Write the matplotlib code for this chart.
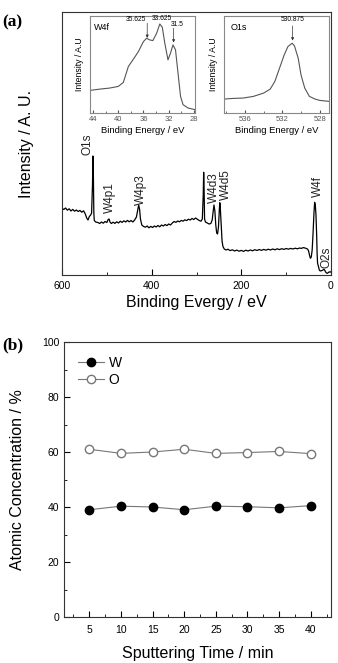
import numpy as np
import matplotlib
matplotlib.use("Agg")
import matplotlib.pyplot as plt
from matplotlib.ticker import MultipleLocator

plt.rcParams['font.family'] = ['Liberation Sans', 'DejaVu Sans']

# survey spectrum (binding energy, intensity in arbitrary units)
survey_be = [600, 596, 592, 588, 584, 580, 576, 572, 568, 564, 560, 556, 552, 548, 545, 542, 539, 536, 534,
             532, 531, 530, 529, 528, 525, 520, 516, 512, 508, 504, 500, 497, 495, 493, 490, 486, 482, 478,
             474, 470, 466, 462, 458, 454, 450, 446, 442, 438, 434, 431, 429, 427, 425, 422, 418, 414, 410,
             406, 402, 398, 394, 390, 386, 382, 378, 374, 370, 366, 362, 358, 354, 350, 346, 342, 338, 334,
             330, 326, 322, 318, 314, 310, 306, 302, 298, 294, 290, 287, 285, 284, 283, 282, 280, 276, 272,
             268, 265, 263, 261, 259, 257, 255, 253, 251, 249, 248, 247, 245, 243, 241, 238, 234, 230, 225,
             220, 215, 210, 205, 200, 195, 190, 185, 180, 175, 170, 165, 160, 155, 150, 145, 140, 135, 130,
             125, 120, 115, 110, 105, 100, 95, 90, 85, 80, 75, 70, 66, 62, 58, 55, 52, 50, 48, 46, 44, 42,
             40, 38, 36.5, 35, 33.5, 32, 31, 30, 28, 26, 24, 22, 20, 18, 16, 14, 12, 10, 8, 6, 4, 2, 0]
survey_int = [66.7, 65.5, 67.0, 64.8, 66.2, 64.0, 65.6, 63.8, 65.0, 63.5, 64.6, 62.8, 64.2, 61.0, 57.0, 55.0,
              58.5, 60.0, 62.0, 90.0, 119.0, 100.0, 62.0, 54.5, 53.0, 52.5, 51.5, 53.0, 51.8, 53.5, 52.5, 55.5,
              56.0, 53.0, 51.5, 52.8, 51.6, 53.2, 52.0, 53.8, 52.6, 54.2, 53.0, 54.6, 53.2, 54.5, 53.0, 55.0,
              58.0, 65.0, 70.0, 66.0, 56.0, 50.0, 48.5, 47.8, 49.0, 47.2, 48.6, 47.5, 49.0, 48.0, 49.5, 48.2,
              50.0, 49.0, 50.5, 49.4, 51.0, 50.0, 52.0, 53.5, 52.6, 54.0, 53.2, 54.6, 53.8, 55.2, 54.4, 55.8,
              55.0, 56.5, 55.5, 57.0, 55.8, 54.5, 53.8, 56.0, 80.0, 102.7, 85.0, 56.0, 53.0, 52.0, 51.0, 51.5,
              55.0, 63.0, 70.0, 64.0, 50.0, 42.0, 41.0, 48.0, 66.0, 72.3, 68.0, 50.0, 34.0, 28.5, 26.0, 25.0,
              25.8, 24.4, 25.2, 24.0, 24.9, 23.8, 24.6, 23.6, 24.8, 24.0, 25.0, 24.2, 25.3, 24.5, 25.5, 24.6,
              25.6, 24.8, 25.8, 25.0, 26.0, 25.2, 26.2, 25.4, 26.3, 25.6, 26.5, 25.8, 26.6, 26.0, 26.8, 26.2,
              27.0, 26.6, 27.4, 27.0, 26.5, 25.8, 24.0, 20.0, 16.7, 18.0, 25.0, 42.0, 62.0, 72.7, 70.0, 60.0,
              40.0, 22.0, 12.0, 8.3, 5.0, 4.0, 4.2, 4.5, 5.0, 5.7, 4.8, 3.0, 2.0, 1.7, 2.5, 3.2, 2.8, 3.3]

peak_labels = ['O1s', 'W4p1', 'W4p3', 'W4d3', 'W4d5', 'W4f', 'O2s']
peak_label_be = [544, 492, 425, 261, 234, 28, 11]
peak_label_y = [120, 62, 70, 72, 75, 78, 7]

# W4f high-resolution
w4f_be = [44.5, 42.9, 41.4, 40.0, 39.2, 38.4, 37.6, 36.8, 36.0, 35.5, 35.0, 34.5, 33.9, 33.4, 33.0, 32.6,
          32.1, 31.7, 31.3, 30.9, 30.5, 30.1, 29.7, 28.9, 27.8]
w4f_int = [68, 72, 75, 80, 92, 140, 162, 185, 215, 225, 220, 218, 240, 268, 258, 210, 160, 180, 205, 190,
           120, 50, 25, 15, 10]
w4f_peaks = ['35.625', '33.625', '31.5']

# O1s high-resolution
o1s_be = [538.24, 537.2, 536.2, 535.1, 534.0, 533.3, 532.8, 532.3, 531.8, 531.4, 530.95, 530.7, 530.3,
          530.0, 529.6, 529.1, 528.5, 528.0, 527.0]
o1s_int = [42, 44, 45, 50, 60, 72, 95, 135, 175, 200, 210, 202, 165, 115, 75, 50, 42, 38, 35]

# atomic concentration vs sputtering time
time_min = [5, 10, 15, 20, 25, 30, 35, 40]
conc_w = [39.0, 40.3, 40.0, 39.0, 40.3, 40.1, 39.7, 40.5]
conc_o = [61.0, 59.5, 60.0, 61.0, 59.5, 59.8, 60.2, 59.4]

W, H = 338, 663
fig = plt.figure(figsize=(W / 100, H / 100), dpi=100)


def box(x0, y0, x1, y1):
    return [x0 / W, 1 - y1 / H, (x1 - x0) / W, (y1 - y0) / H]


arrow = dict(arrowstyle='-|>', lw=0.5, color='#333333', mutation_scale=4, shrinkA=0, shrinkB=0)

# ---- panel (a) survey
ax = fig.add_axes(box(62, 12, 331, 275))
ax.plot(survey_be, survey_int, color='black', lw=0.9)
ax.set_xlim(600, 0)
ax.set_ylim(0, 263)
ax.set_yticks([])
ax.xaxis.set_major_locator(MultipleLocator(200))
ax.xaxis.set_minor_locator(MultipleLocator(100))
ax.tick_params(axis='x', which='both', direction='in', labelsize=7.5, pad=4)
ax.tick_params(axis='x', which='major', length=4)
ax.tick_params(axis='x', which='minor', length=2.5)
ax.set_xlabel('Binding Evergy / eV', fontsize=11.5, labelpad=3)
ax.set_ylabel('Intensity / A. U.', fontsize=11.5, labelpad=20)
for s in ax.spines.values():
    s.set_color('#333333')
for lab, be, yv in zip(peak_labels, peak_label_be, peak_label_y):
    ax.text(be, yv, lab, rotation=90, fontsize=8.5, color='#222222', ha='center', va='bottom')

fig.text(2 / W, 1 - 26 / H, '(a)', fontsize=12.5, fontweight='bold', family='Liberation Serif')

# ---- inset W4f
ai = fig.add_axes(box(90, 16, 195, 113))
ai.plot(w4f_be, w4f_int, color='#555555', lw=0.8)
ai.set_xlim(44.5, 27.8)
ai.set_ylim(0, 292)
ai.set_yticks([])
ai.xaxis.set_major_locator(MultipleLocator(4))
ai.xaxis.set_minor_locator(MultipleLocator(2))
ai.tick_params(axis='x', which='both', direction='in', labelsize=5.5, pad=2, colors='#555555')
ai.tick_params(axis='x', which='major', length=2.5)
ai.tick_params(axis='x', which='minor', length=1.5)
ai.set_xlabel('Binding Energy / eV', fontsize=6.8, labelpad=2)
ai.set_ylabel('Intensity / A.U', fontsize=6.3, labelpad=4)
for s in ai.spines.values():
    s.set_color('#888888')
ai.text(0.04, 0.93, 'W4f', transform=ai.transAxes, fontsize=6.5, va='top')
ai.text(37.2, 280, w4f_peaks[0], fontsize=4.8, ha='center', va='center')
ai.annotate('', xy=(35.4, 226), xytext=(35.4, 270), arrowprops=arrow)
ai.text(33.1, 283, w4f_peaks[1], fontsize=4.8, ha='center', va='center')
ai.text(30.6, 265, w4f_peaks[2], fontsize=4.8, ha='center', va='center')
ai.annotate('', xy=(31.2, 212), xytext=(31.2, 255), arrowprops=arrow)

# ---- inset O1s
ao = fig.add_axes(box(224, 16, 329, 113))
ao.plot(o1s_be, o1s_int, color='#555555', lw=0.8)
ao.set_xlim(538.25, 527.0)
ao.set_ylim(0, 292)
ao.set_yticks([])
ao.xaxis.set_major_locator(MultipleLocator(4))
ao.xaxis.set_minor_locator(MultipleLocator(2))
ao.tick_params(axis='x', which='both', direction='in', labelsize=5.5, pad=2, colors='#555555')
ao.tick_params(axis='x', which='major', length=2.5)
ao.tick_params(axis='x', which='minor', length=1.5)
ao.set_xlabel('Binding Energy / eV', fontsize=6.8, labelpad=2)
ao.set_ylabel('Intensity / A.U', fontsize=6.3, labelpad=4)
for s in ao.spines.values():
    s.set_color('#888888')
ao.text(0.06, 0.93, 'O1s', transform=ao.transAxes, fontsize=6.5, va='top')
ao.text(530.9, 280, '530.875', fontsize=4.8, ha='center', va='center')
ao.annotate('', xy=(530.9, 218), xytext=(530.9, 262), arrowprops=arrow)

# ---- panel (b)
ab = fig.add_axes(box(64, 342, 331, 617))
ab.plot(time_min, conc_w, color='#777777', lw=0.8, marker='o', ms=6,
        mfc='black', mec='black', label='W')
ab.plot(time_min, conc_o, color='#777777', lw=0.8, marker='o', ms=6,
        mfc='white', mec='#777777', label='O')
ab.set_xlim(1, 43.2)
ab.set_ylim(0, 100)
ab.set_xticks(time_min)
ab.xaxis.set_minor_locator(MultipleLocator(2.5))
ab.yaxis.set_major_locator(MultipleLocator(20))
ab.yaxis.set_minor_locator(MultipleLocator(10))
ab.tick_params(which='both', direction='in', labelsize=7.5)
ab.tick_params(which='major', length=4)
ab.tick_params(which='minor', length=2.5)
ab.tick_params(axis='x', pad=6)
ab.set_xlabel('Sputtering Time / min', fontsize=11.5, labelpad=8)
ab.set_ylabel('Atomic Concentration / %', fontsize=11.5, labelpad=12)
for s in ab.spines.values():
    s.set_color('#333333')
ab.legend(loc='upper left', bbox_to_anchor=(0.0, 1.0), frameon=False, fontsize=10,
          handlelength=1.9, handletextpad=0.3, labelspacing=0.2, borderaxespad=0.6)

fig.text(2 / W, 1 - 349 / H, '(b)', fontsize=12.5, fontweight='bold', family='Liberation Serif')

fig.savefig('out.png', dpi=100)
